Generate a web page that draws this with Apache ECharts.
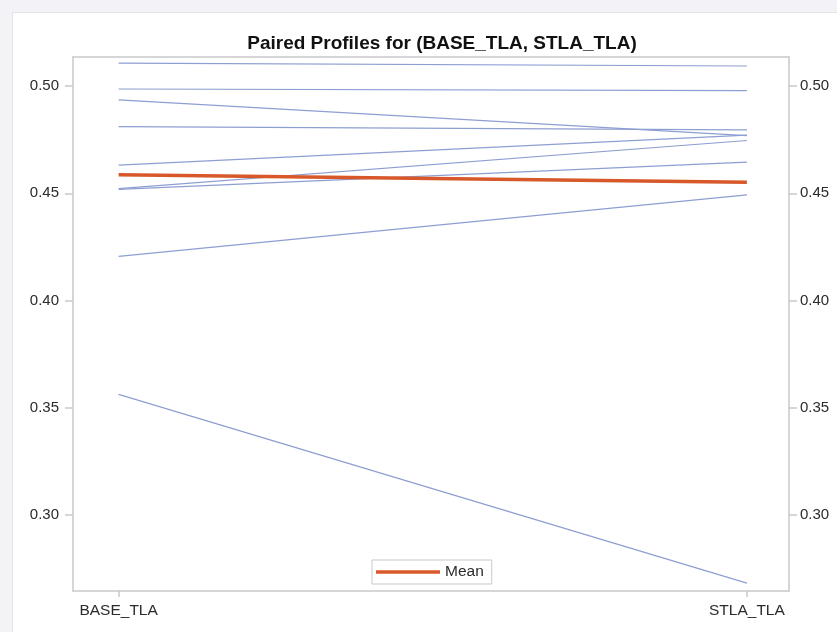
<!DOCTYPE html>
<html>
<head>
<meta charset="utf-8">
<script src="https://cdn.jsdelivr.net/npm/echarts@6/dist/echarts.min.js"></script>
<style>
  html, body { margin: 0; padding: 0; background: #f3f3f7; }
  #panel { position: absolute; left: 12px; top: 12px;
           width: 825px; height: 620px; background: #ffffff;
           border-left: 1px solid #e2e2e8; border-top: 1px solid #e2e2e8; }
  #chart { position: absolute; left: 0; top: 0; width: 837px; height: 632px; }
</style>
</head>
<body>
<div id="panel"></div>
<div id="chart"></div>
<script>
// Paired measurements: one profile line per subject
const categories = ['BASE_TLA', 'STLA_TLA'];
const baseValues = [0.5106, 0.4986, 0.4935, 0.4811, 0.4631, 0.4522, 0.4518, 0.4206, 0.3563];
const stlaValues = [0.5093, 0.4978, 0.4769, 0.4795, 0.4771, 0.4746, 0.4645, 0.4493, 0.2684];
const meanValues = [0.4586, 0.4552];
const yTicks = [0.30, 0.35, 0.40, 0.45, 0.50];

const frameColor = '#c9c9cc';
const textColor = '#2b2b2b';
const font = 'Liberation Sans, Arial, Helvetica, sans-serif';

const subjectSeries = baseValues.map((b, i) => ({
  type: 'line',
  name: 'subject' + (i + 1),
  xAxisIndex: 0,
  yAxisIndex: 0,
  data: [[0, b], [1, stlaValues[i]]],
  symbol: 'none',
  silent: true,
  lineStyle: { color: '#8d9ed2', width: 1.2, cap: 'butt' },
  z: 2
}));

const meanSeries = {
  type: 'line',
  name: 'Mean',
  xAxisIndex: 0,
  yAxisIndex: 0,
  data: [[0, meanValues[0]], [1, meanValues[1]]],
  symbol: 'none',
  lineStyle: { color: '#d8582a', width: 3.5, cap: 'butt' },
  itemStyle: { color: '#d8582a' },
  z: 5
};

function yAxisFor(pos, margin) {
  return {
    type: 'value',
    position: pos,
    min: 0.2647,
    max: 0.5135,
    splitLine: { show: false },
    axisLine: { show: true, onZero: false, lineStyle: { color: frameColor, width: 1.5 } },
    axisTick: { show: true, length: 8, customValues: yTicks, lineStyle: { color: frameColor, width: 1.5 } },
    axisLabel: {
      customValues: yTicks,
      formatter: v => v.toFixed(2),
      color: textColor, fontSize: 15, fontFamily: font, margin: margin
    }
  };
}

const chart = echarts.init(document.getElementById('chart'), null, { renderer: 'canvas' });
chart.setOption({
  backgroundColor: 'transparent',
  animation: false,
  title: {
    text: 'Paired Profiles for (BASE_TLA, STLA_TLA)',
    left: 437, top: 29, textAlign: 'center',
    textStyle: { fontSize: 19, fontWeight: 'bold', color: '#111', fontFamily: font }
  },
  grid: { left: 73, top: 57, width: 716, height: 534, containLabel: false },
  xAxis: [
    {
      type: 'value', position: 'bottom',
      min: -0.0726, max: 1.067,
      splitLine: { show: false },
      axisLine: { show: true, onZero: false, lineStyle: { color: frameColor, width: 1.5 } },
      axisTick: { show: true, length: 6, customValues: [0, 1], lineStyle: { color: frameColor, width: 1.5 } },
      axisLabel: {
        customValues: [0, 1],
        formatter: v => categories[Math.round(v)],
        color: textColor, fontSize: 15.5, fontFamily: font, margin: 12
      }
    },
    {
      type: 'value', position: 'top',
      min: -0.0726, max: 1.067,
      splitLine: { show: false },
      axisLine: { show: true, onZero: false, lineStyle: { color: frameColor, width: 1.5 } },
      axisTick: { show: false },
      axisLabel: { show: false }
    }
  ],
  yAxis: [yAxisFor('left', 14), yAxisFor('right', 11)],
  legend: {
    data: ['Mean'],
    left: 372, top: 560,
    orient: 'horizontal',
    icon: 'rect',
    itemWidth: 64, itemHeight: 3.5,
    itemGap: 6,
    padding: [4, 8, 4, 4],
    borderColor: '#c9c9cc', borderWidth: 1,
    backgroundColor: '#ffffff',
    textStyle: { color: textColor, fontSize: 15.5, fontFamily: font }
  },
  series: subjectSeries.concat([meanSeries])
});
</script>
</body>
</html>
